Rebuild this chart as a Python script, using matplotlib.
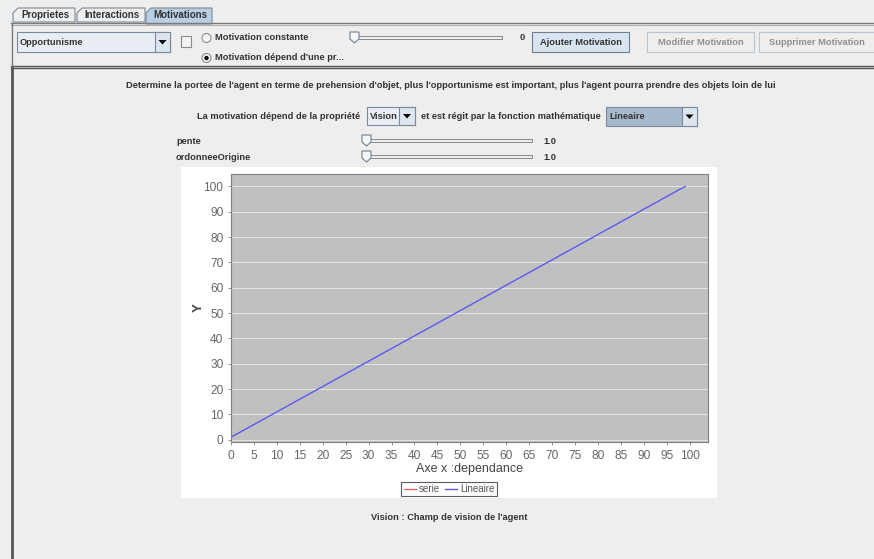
import matplotlib
matplotlib.use("Agg")
import matplotlib.pyplot as plt
from matplotlib.patches import Rectangle, Polygon, Circle

# chart data
dependance = [0, 5, 10, 15, 20, 25, 30, 35, 40, 45, 50, 55, 60, 65, 70, 75, 80, 85, 90, 95, 99]
lineaire = [1, 6, 11, 16, 21, 26, 31, 36, 41, 46, 51, 56, 61, 66, 71, 76, 81, 86, 91, 96, 100]
serie_x = []
serie_y = []
x_ticks = list(range(0, 101, 5))
y_ticks = list(range(0, 101, 10))

W, H = 874, 559
BG = "#EEEEEE"
TXT = "#333333"
GUI_FONT = "Liberation Sans"
GUI_SIZE = 6.7
CHART_FONT = "Liberation Sans"

fig = plt.figure(figsize=(W / 100, H / 100), dpi=100, facecolor=BG)
ui = fig.add_axes([0, 0, 1, 1])
ui.set_xlim(0, W)
ui.set_ylim(H, 0)
ui.axis("off")


def label(x, y, s, ha="left", color=TXT, size=None, weight="bold"):
    ui.text(x, y, s, ha=ha, va="center", color=color, fontsize=size or GUI_SIZE,
            fontweight=weight, family=GUI_FONT)


def box(x0, y0, x1, y1, fc, ec="#7A8A99", lw=0.8, z=1):
    ui.add_patch(Rectangle((x0, y0), x1 - x0, y1 - y0, facecolor=fc, edgecolor=ec, lw=lw, zorder=z))


def arrow_btn(x0, y0, x1, y1):
    box(x0, y0, x1, y1, "#DDE5EE")
    cx, cy = (x0 + x1) / 2, (y0 + y1) / 2
    ui.add_patch(Polygon([(cx - 4, cy - 2), (cx + 4, cy - 2), (cx, cy + 2.5)], closed=True,
                         facecolor="black", edgecolor="none", zorder=3))


def slider(x0, x1, y, thumb_w=9):
    ui.plot([x0 + thumb_w, x1], [y - 1.5, y - 1.5], color="#8A8A8A", lw=0.7)
    ui.plot([x0 + thumb_w, x1], [y + 1.5, y + 1.5], color="#8A8A8A", lw=0.7)
    ui.plot([x1, x1], [y - 1.5, y + 1.5], color="#8A8A8A", lw=0.7)
    ui.add_patch(Polygon([(x0, y - 5), (x0 + thumb_w, y - 5), (x0 + thumb_w, y + 2),
                          (x0 + thumb_w / 2, y + 6), (x0, y + 2)], closed=True,
                         facecolor="#F4F6F9", edgecolor="#6F7F8F", lw=0.8, zorder=3))


# tabs
tabs = [("Proprietes", 13, 75, False), ("Interactions", 77, 145, False), ("Motivations", 146, 212, True)]
for name, x0, x1, sel in tabs:
    bottom = 24 if sel else 22
    ui.add_patch(Polygon([(x0, bottom), (x0, 13), (x0 + 5, 8), (x1, 8), (x1, bottom)], closed=True,
                         facecolor="#B8CFE5" if sel else BG, edgecolor="#7A8A99", lw=0.8, zorder=2))
    label((x0 + x1) / 2 + 1, 15.5, name, ha="center", size=7)

# top panel borders
ui.plot([11, W], [23, 23], color="#7A7A7A", lw=1)
ui.plot([11, W], [25, 25], color="#B0B0B0", lw=0.8)
ui.plot([11, W], [66, 66], color="#555555", lw=1)
ui.plot([11, W], [68, 68], color="#555555", lw=1)
ui.plot([11.5, 11.5], [23, 66], color="#7A7A7A", lw=1)
ui.plot([12, 12], [68, H], color="#555555", lw=2)

# top row controls
box(17, 32, 170, 52, "#E9EEF4")
arrow_btn(155, 32, 170, 52)
label(20, 42.5, "Opportunisme")
box(181, 36, 191, 47, "#F2F2F2", ec="#8A8A8A")
ui.add_patch(Circle((206.5, 38), 4.5, facecolor="#F4F6F9", edgecolor="#8A8A8A", lw=0.8, zorder=2))
ui.add_patch(Circle((206.5, 58), 4.5, facecolor="#F4F6F9", edgecolor="#8A8A8A", lw=0.8, zorder=2))
ui.add_patch(Circle((206.5, 58), 2.2, facecolor="black", edgecolor="none", zorder=3))
label(215, 38, "Motivation constante")
label(215, 58, "Motivation dépend d'une pr...")
slider(350, 502, 37)
label(520, 37, "0")

box(532, 32, 629, 52, "#D8E4F0", ec="#6F7F8F")
label(580.5, 42.5, "Ajouter Motivation", ha="center")
box(647, 32, 754, 52, BG, ec="#B8C4D0")
label(700.5, 42.5, "Modifier Motivation", ha="center", color="#8F8F8F")
box(759, 32, 880, 52, BG, ec="#B8C4D0")
label(817, 42.5, "Supprimer Motivation", ha="center", color="#8F8F8F")

# description and parameters
label(451, 86, "Determine la portee de l'agent en terme de prehension d'objet, plus l'opportunisme "
      "est important, plus l'agent pourra prendre des objets loin de lui", ha="center")
label(360, 116.5, "La motivation dépend de la propriété", ha="right")
box(367, 107, 415, 125, "#E9EEF4")
arrow_btn(399, 107, 415, 125)
label(370, 116.5, "Vision")
label(421, 116.5, "et est régit par la fonction mathématique")
box(606, 107, 697, 126, "#A6B9CD")
arrow_btn(682, 107, 697, 126)
label(609, 116.5, "Lineaire")

label(176, 141, "pente")
slider(362, 532, 140)
label(543, 141, "1.0")
label(176, 157, "ordonneeOrigine")
slider(362, 532, 156)
label(543, 157, "1.0")

label(449, 517, "Vision : Champ de vision de l'agent", ha="center")

# chart panel
box(181, 167, 717, 498, "white", ec="none", lw=0, z=1)

px0, px1, py0, py1 = 231, 708, 174, 442
ax = fig.add_axes([px0 / W, 1 - py1 / H, (px1 - px0) / W, (py1 - py0) / H])
ax.set_facecolor("#C0C0C0")
ax.plot(serie_x, serie_y, color="#FF5555", lw=0.9, label="serie")
ax.plot(dependance, lineaire, color="#5A5AF0", lw=1.0, label="Lineaire")
ax.set_xlim(0, 104)
ax.set_ylim(-0.9, 104.9)
ax.set_xticks(x_ticks)
ax.set_yticks(y_ticks)
ax.grid(axis="y", color="white", lw=0.6, alpha=0.7)
ax.set_axisbelow(True)
for sp in ax.spines.values():
    sp.set_color("#808080")
    sp.set_linewidth(0.8)
ax.tick_params(colors="#808080", labelcolor="#666666", labelsize=8.6, length=2, width=0.6)
for t in ax.get_xticklabels() + ax.get_yticklabels():
    t.set_family(CHART_FONT)
ax.set_xlabel("Axe x :dependance", fontsize=9, color="#444444", family=CHART_FONT, labelpad=1)
ax.set_ylabel("Y", fontsize=9.5, color="#444444", family=CHART_FONT, fontweight="bold", labelpad=-1)

leg = ax.legend(loc="center", bbox_to_anchor=(449 / W, 1 - 489 / H), bbox_transform=fig.transFigure,
                ncol=2, frameon=True, fancybox=False, fontsize=7, handlelength=1.3,
                handletextpad=0.25, columnspacing=0.5, borderpad=0.25, borderaxespad=0)
leg.get_frame().set_edgecolor("#333333")
leg.get_frame().set_linewidth(0.8)
for t in leg.get_texts():
    t.set_color("#555555")
    t.set_family(CHART_FONT)

fig.savefig("out.png", dpi=100, facecolor=BG)
